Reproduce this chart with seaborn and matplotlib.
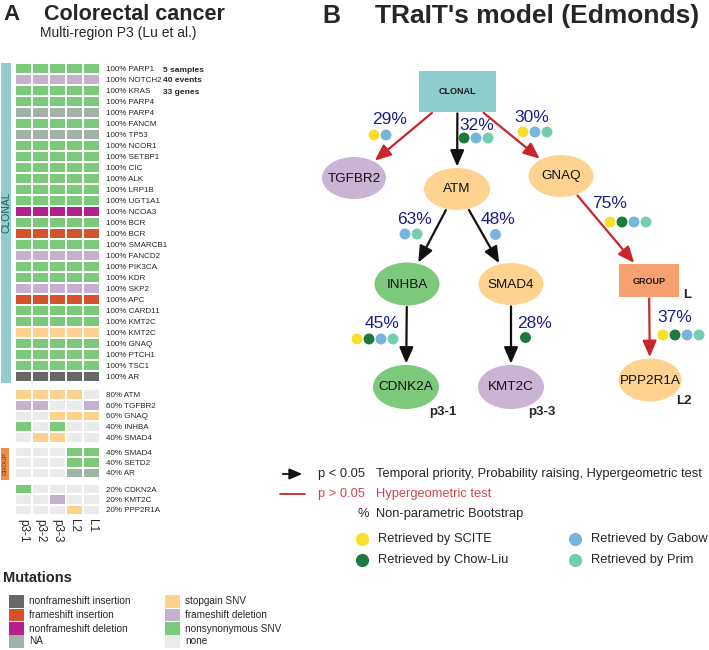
import numpy as np
import pandas as pd
import matplotlib
matplotlib.use("Agg")
import matplotlib.pyplot as plt
import seaborn as sns
from matplotlib import font_manager
from matplotlib.colors import ListedColormap
from matplotlib.patches import Ellipse, Rectangle, FancyArrowPatch

# ---------------- data: panel A ----------------
samples = ["p3-1", "p3-2", "p3-3", "L2", "L1"]
mutation_types = ["nonframeshift insertion", "frameshift insertion", "nonframeshift deletion", "NA",
                  "stopgain SNV", "frameshift deletion", "nonsynonymous SNV", "none"]
mutation_codes = ["ni", "fi", "nd", "na", "sg", "fd", "ns", "-"]
mutation_colors = ["#676767", "#D4532B", "#B2228A", "#A0B3A6",
                   "#FDD28C", "#C6B0D0", "#7DC97B", "#EBEBEB"]

clonal_genes = ["PARP1", "NOTCH2", "KRAS", "PARP4", "PARP4", "FANCM", "TP53", "NCOR1", "SETBP1",
                "CIC", "ALK", "LRP1B", "UGT1A1", "NCOA3", "BCR", "BCR", "SMARCB1", "FANCD2",
                "PIK3CA", "KDR", "SKP2", "APC", "CARD11", "KMT2C", "KMT2C", "GNAQ", "PTCH1",
                "TSC1", "AR"]
clonal_types = ["ns", "fd", "ns", "ns", "na", "ns", "na", "ns", "ns", "ns", "ns", "ns", "ns", "nd",
                "ns", "fi", "ns", "fd", "ns", "ns", "fd", "fi", "ns", "ns", "sg", "ns", "ns", "ns", "ni"]

sub_genes = ["ATM", "TGFBR2", "GNAQ", "INHBA", "SMAD4"]
sub_calls = [["sg", "sg", "sg", "sg", "-"],
             ["fd", "fd", "-", "-", "fd"],
             ["-", "-", "sg", "sg", "sg"],
             ["ns", "-", "ns", "-", "-"],
             ["-", "sg", "sg", "-", "-"]]
group_genes = ["SMAD4", "SETD2", "AR"]
group_calls = [["-", "-", "-", "ns", "ns"],
               ["-", "-", "-", "ns", "ns"],
               ["-", "-", "-", "na", "na"]]
private_genes = ["CDKN2A", "KMT2C", "PPP2R1A"]
private_calls = [["ns", "-", "-", "-", "-"],
                 ["-", "-", "fd", "-", "-"],
                 ["-", "-", "-", "sg", "-"]]
n_genes = 33

# ---------------- data: panel B ----------------
node_names = ["CLONAL", "TGFBR2", "ATM", "GNAQ", "INHBA", "SMAD4", "GROUP", "CDNK2A", "KMT2C", "PPP2R1A"]
node_kind = ["box", "ell", "ell", "ell", "ell", "ell", "box", "ell", "ell", "ell"]
node_colors = ["#8ECDCB", "#C9B4D4", "#FDD38F", "#FDD38F", "#7DC97B", "#FDD38F", "#F9A070",
               "#7DC97B", "#C9B4D4", "#FDD38F"]
edge_src = ["CLONAL", "CLONAL", "CLONAL", "ATM", "ATM", "GNAQ", "INHBA", "SMAD4", "GROUP"]
edge_dst = ["TGFBR2", "ATM", "GNAQ", "INHBA", "SMAD4", "GROUP", "CDNK2A", "KMT2C", "PPP2R1A"]
edge_pct = [29, 32, 30, 63, 48, 75, 45, 28, 37]
edge_significant = [False, True, False, True, True, False, True, True, False]
edge_methods = [["SCITE", "Gabow"], ["Chow-Liu", "Gabow", "Prim"], ["SCITE", "Gabow", "Prim"],
                ["Gabow", "Prim"], ["Gabow"], ["SCITE", "Chow-Liu", "Gabow", "Prim"],
                ["SCITE", "Chow-Liu", "Gabow", "Prim"], ["Chow-Liu"], ["SCITE", "Chow-Liu", "Gabow", "Prim"]]
methods = ["SCITE", "Chow-Liu", "Gabow", "Prim"]
method_colors = ["#F7DF2B", "#1D7A3C", "#79B4DD", "#74CDB0"]
leaf_samples = {"CDNK2A": "p3-1", "KMT2C": "p3-3", "GROUP": "L", "PPP2R1A": "L2"}

# ---------------- layout (pixels) ----------------
W, H = 709, 650
node_pos = {"CLONAL": (457.5, 91.5, 77, 41), "TGFBR2": (354, 178, 64, 42), "ATM": (457, 189, 66, 42),
            "GNAQ": (561, 176, 65, 42), "INHBA": (407, 284, 65, 43), "SMAD4": (511, 284, 65, 42),
            "GROUP": (649, 280.5, 60, 33), "CDNK2A": (406, 387, 66, 44), "KMT2C": (511, 387, 66, 44),
            "PPP2R1A": (650, 380, 63, 43)}
label_pos = [(390, 120, 374, 135), (477, 125, 464, 138), (532, 117, 523, 132),
             (414, 219, 405, 234), (498, 219, 495, 234), (610, 204, 610, 222),
             (382, 324, 357, 339), (534, 324, 525, 337), (675, 317, 663, 335)]
leaf_pos = {"CDNK2A": (443, 412), "KMT2C": (542, 412), "GROUP": (687, 295), "PPP2R1A": (684, 401)}

sns.set_theme(style="white")
plt.rcParams["font.family"] = ["Liberation Sans", "DejaVu Sans"]

installed = {f.name for f in font_manager.fontManager.ttflist}
if "Liberation Sans Narrow" in installed:
    row_font = dict(family=["Liberation Sans Narrow", "Liberation Sans"], size=7.0)
else:
    row_font = dict(family=["Liberation Sans", "DejaVu Sans"], size=5.8)

fig = plt.figure(figsize=(W / 100, H / 100), dpi=100)
ov = fig.add_axes([0, 0, 1, 1], zorder=0)
ov.set_xlim(0, W)
ov.set_ylim(H, 0)
ov.axis("off")


def px_axes(left, top, right, bottom):
    return fig.add_axes([left / W, 1 - bottom / H, (right - left) / W, (bottom - top) / H], zorder=2)


cmap = ListedColormap(mutation_colors)
code_idx = {c: i for i, c in enumerate(mutation_codes)}

blocks = [
    (clonal_genes, [[t] * len(samples) for t in clonal_types], 63, 382),
    (sub_genes, sub_calls, 389, 443),
    (group_genes, group_calls, 447, 478),
    (private_genes, private_calls, 484, 515),
]
for bi, (genes, calls, top, bottom) in enumerate(blocks):
    mat = np.array([[code_idx[c] for c in row] for row in calls])
    pct = [int(round(100 * np.mean([c != "-" for c in row]))) for row in calls]
    labels = [f"{p}% {g}" for p, g in zip(pct, genes)]
    df = pd.DataFrame(mat, index=labels, columns=samples)
    ax = px_axes(15, top, 100, bottom)
    last = bi == len(blocks) - 1
    sns.heatmap(df, ax=ax, cmap=cmap, vmin=-0.5, vmax=len(mutation_colors) - 0.5, cbar=False,
                linewidths=1.3, linecolor="white", yticklabels=labels,
                xticklabels=samples if last else False)
    ax.yaxis.tick_right()
    ax.set_yticklabels(labels, rotation=0, fontdict={"family": row_font["family"], "size": row_font["size"]})
    ax.tick_params(axis="y", length=0, pad=4)
    if last:
        ax.set_xticklabels(samples, rotation=270, fontsize=8.5)
        ax.tick_params(axis="x", length=0, pad=3)
    ax.set_xlabel("")
    ax.set_ylabel("")

# side bars
ov.add_patch(Rectangle((1, 63), 10, 320, color="#8FCCCA", lw=0))
ov.text(6, 212, "CLONAL", rotation=90, ha="center", va="center", fontsize=7.5, color="#1F5F66")
ov.add_patch(Rectangle((1, 448), 8, 32, color="#F28B4B", lw=0))
ov.text(5, 464, "GROUP", rotation=90, ha="center", va="center", fontsize=4.5, color="#6B2E0A")

n_events = len(clonal_genes) + len(sub_genes) + len(group_genes) + len(private_genes)
ov.text(163, 70, f"{len(samples)} samples", fontsize=6, weight="bold", va="center")
ov.text(163, 81, f"{n_events} events", fontsize=6, weight="bold", va="center")
ov.text(163, 92, f"{n_genes} genes", fontsize=6, weight="bold", va="center")

# titles
ov.text(3, 20, "A", fontsize=16, weight="bold", va="baseline")
ov.text(44, 20, "Colorectal cancer", fontsize=15.5, weight="bold", va="baseline")
ov.text(40, 37, "Multi-region P3 (Lu et al.)", fontsize=10, va="baseline")
ov.text(322, 23, "B", fontsize=18, weight="bold", va="baseline")
ov.text(375, 23, "TRaIT's model (Edmonds)", fontsize=19, weight="bold", va="baseline")

# mutation legend
ov.text(3, 582, "Mutations", fontsize=10.5, weight="bold", va="baseline")
leg_rows = [595, 608.5, 622, 635]
for i, (name, col) in enumerate(zip(mutation_types, mutation_colors)):
    cx = 9 if i < 4 else 165
    ry = leg_rows[i % 4]
    ov.add_patch(Rectangle((cx, ry), 14.5, 12.5, color=col, lw=0))
    ov.text(cx + 20, ry + 6.5, name, fontsize=7.2, va="center")

# ---------------- panel B graph ----------------
patches = {}
for name, kind, col in zip(node_names, node_kind, node_colors):
    cx, cy, w, h = node_pos[name]
    if kind == "box":
        p = Rectangle((cx - w / 2, cy - h / 2), w, h, facecolor=col, edgecolor="none")
        ov.add_patch(p)
        ov.text(cx, cy + 0.5, name, ha="center", va="center", fontsize=6.5, weight="bold", color="#1a1a1a")
    else:
        p = Ellipse((cx, cy), w, h, facecolor=col, edgecolor="none")
        ov.add_patch(p)
        ov.text(cx, cy + 0.5, name, ha="center", va="center", fontsize=9.7, color="#111111")
    patches[name] = p

for i, (s, d) in enumerate(zip(edge_src, edge_dst)):
    col = "#111111" if edge_significant[i] else "#C8262C"
    a = FancyArrowPatch(node_pos[s][:2], node_pos[d][:2], patchA=patches[s], patchB=patches[d],
                        arrowstyle="-|>,head_length=0.7,head_width=0.3", mutation_scale=14, lw=1.6,
                        color=col, shrinkA=1, shrinkB=1, zorder=3)
    ov.add_patch(a)
    tx, ty, dx0, dy = label_pos[i]
    ov.text(tx, ty, f"{edge_pct[i]}%", ha="center", va="center", fontsize=12.5, color="#1C1C86")
    ms = [m for m in methods if m in edge_methods[i]]
    xs = [dx0 + 12 * k for k in range(len(ms))]
    ov.scatter(xs, [dy] * len(ms), s=62, c=[method_colors[methods.index(m)] for m in ms],
               linewidths=0, zorder=4)

for node, lab in leaf_samples.items():
    x, y = leaf_pos[node]
    ov.text(x, y, lab, ha="center", va="center", fontsize=9.5, weight="bold")

# panel B legend
ov.add_patch(FancyArrowPatch((280, 474), (305, 474), arrowstyle="-|>,head_length=0.7,head_width=0.3",
                             mutation_scale=11, lw=1.3, color="#111111"))
ov.plot([280, 305], [494, 494], color="#C8262C", lw=1.3)
fs = 9.3
ov.text(318, 474, "p < 0.05", fontsize=fs, va="center")
ov.text(376, 474, "Temporal priority, Probability raising, Hypergeometric test", fontsize=fs, va="center")
ov.text(318, 494, "p > 0.05", fontsize=fs, va="center", color="#D0454D")
ov.text(376, 494, "Hypergeometric test", fontsize=fs, va="center", color="#D0454D")
ov.text(357, 514, "%", fontsize=fs, va="center")
ov.text(376, 514, "Non-parametric Bootstrap", fontsize=fs, va="center")
leg_m = [(362, 539), (362, 560), (575, 539), (575, 560)]
for (x, y), m, c in zip(leg_m, methods, method_colors):
    ov.scatter([x], [y], s=90, c=[c], linewidths=0)
    ov.text(x + 16, y, f"Retrieved by {m}", fontsize=fs, va="center")

fig.savefig("out.png", dpi=100)
